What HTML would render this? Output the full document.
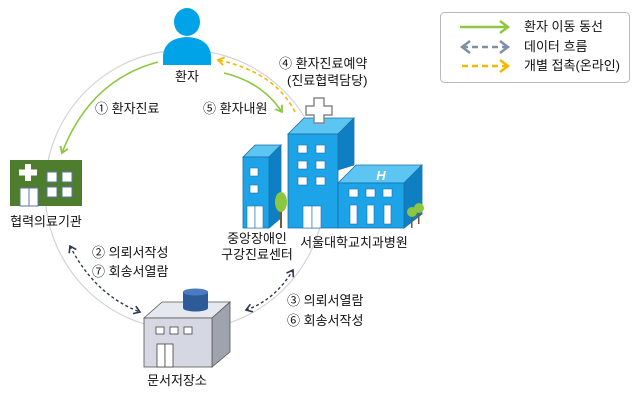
<!DOCTYPE html>
<html><head><meta charset="utf-8"><style>
html,body{margin:0;padding:0;background:#fff;width:640px;height:401px;overflow:hidden}
svg{display:block}
text{font-family:"Liberation Sans","Noto Sans CJK KR",sans-serif;font-size:13px;fill:#111}
</style></head><body>
<svg width="640" height="401" viewBox="0 0 640 401">
<defs>
<marker id="g" markerWidth="10" markerHeight="10" refX="7" refY="5" orient="auto" markerUnits="userSpaceOnUse"><path d="M1,1 L7,5 L1,9" fill="none" stroke="#8dc63f" stroke-width="1.8"/></marker>
<marker id="o" markerWidth="10" markerHeight="10" refX="7" refY="5" orient="auto" markerUnits="userSpaceOnUse"><path d="M1,1 L7,5 L1,9" fill="none" stroke="#f5b800" stroke-width="1.8"/></marker>
<marker id="d" markerWidth="10" markerHeight="10" refX="7" refY="5" orient="auto" markerUnits="userSpaceOnUse"><path d="M1,1 L7,5 L1,9" fill="none" stroke="#2b3a4f" stroke-width="1.6"/></marker>
<marker id="ds" markerWidth="10" markerHeight="10" refX="3" refY="5" orient="auto" markerUnits="userSpaceOnUse"><path d="M9,1 L3,5 L9,9" fill="none" stroke="#2b3a4f" stroke-width="1.6"/></marker>
<marker id="lg" markerWidth="14" markerHeight="14" refX="10" refY="7" orient="auto" markerUnits="userSpaceOnUse"><path d="M2,1 L10,7 L2,13" fill="none" stroke="#8dc63f" stroke-width="2.5"/></marker>
<marker id="lb" markerWidth="14" markerHeight="14" refX="10" refY="7" orient="auto" markerUnits="userSpaceOnUse"><path d="M2,1 L10,7 L2,13" fill="none" stroke="#7f8fa6" stroke-width="2.5"/></marker>
<marker id="lbs" markerWidth="14" markerHeight="14" refX="4" refY="7" orient="auto" markerUnits="userSpaceOnUse"><path d="M12,1 L4,7 L12,13" fill="none" stroke="#7f8fa6" stroke-width="2.5"/></marker>
<marker id="lo" markerWidth="14" markerHeight="14" refX="10" refY="7" orient="auto" markerUnits="userSpaceOnUse"><path d="M2,1 L10,7 L2,13" fill="none" stroke="#f5b800" stroke-width="2.5"/></marker>
</defs>

<circle cx="185" cy="190" r="140" fill="none" stroke="#d4d4d8" stroke-width="1.2"/>

<rect x="440.5" y="12.5" width="189" height="70" rx="4" fill="#fff" stroke="#b8b8b8"/>
<line x1="460" y1="27" x2="508" y2="27" stroke="#8dc63f" stroke-width="2.5" marker-end="url(#lg)"/>
<line x1="462" y1="47" x2="508" y2="47" stroke="#7f8fa6" stroke-width="2.5" stroke-dasharray="6,4" marker-end="url(#lb)" marker-start="url(#lbs)"/>
<line x1="462" y1="66" x2="508" y2="66" stroke="#f5b800" stroke-width="2.5" stroke-dasharray="6,4" marker-end="url(#lo)"/>
<text x="524" y="31" font-size="12">환자 이동 동선</text>
<text x="524" y="51" font-size="12">데이터 흐름</text>
<text x="524" y="70" font-size="12">개별 접촉(온라인)</text>

<ellipse cx="187" cy="22" rx="13" ry="14" fill="#00a3e8"/>
<path d="M163,65 L163,55 Q165,38 187,37 Q209,38 211,55 L211,65 Z" fill="#00a3e8"/>
<text x="187" y="81" text-anchor="middle">환자</text>

<path d="M158,62 Q90,80 62,153" fill="none" stroke="#8dc63f" stroke-width="1.6" marker-end="url(#g)"/>
<path d="M224,73 Q262,82 282,112" fill="none" stroke="#8dc63f" stroke-width="1.6" marker-end="url(#g)"/>
<path d="M295,112 Q275,72 218,60" fill="none" stroke="#f5b800" stroke-width="1.6" stroke-dasharray="4,3" marker-end="url(#o)"/>
<path d="M70,246 Q95,295 140,312" fill="none" stroke="#2b3a4f" stroke-width="1.4" stroke-dasharray="3,2.5" marker-end="url(#d)" marker-start="url(#ds)"/>
<path d="M246,310 Q275,300 293,270" fill="none" stroke="#2b3a4f" stroke-width="1.4" stroke-dasharray="3,2.5" marker-end="url(#d)" marker-start="url(#ds)"/>

<text x="95" y="113">① 환자진료</text>
<text x="203" y="113">⑤ 환자내원</text>
<text x="279" y="68">④ 환자진료예약</text>
<text x="287" y="85">(진료협력담당)</text>
<text x="92" y="257">② 의뢰서작성</text>
<text x="92" y="276">⑦ 회송서열람</text>
<text x="287" y="305">③ 의뢰서열람</text>
<text x="287" y="325">⑥ 회송서작성</text>

<rect x="10" y="160" width="72" height="46" fill="#4f7d2e"/>
<rect x="25" y="164" width="6" height="17" fill="#fff"/>
<rect x="19" y="169.5" width="18" height="6" fill="#fff"/>
<rect x="20" y="188" width="9" height="18" fill="#fff" stroke="#5b74a8"/>
<rect x="29" y="188" width="9" height="18" fill="#fff" stroke="#5b74a8"/>
<rect x="47" y="172" width="10" height="10" fill="#fff" stroke="#5b74a8"/>
<rect x="62" y="172" width="10" height="10" fill="#fff" stroke="#5b74a8"/>
<rect x="47" y="187" width="10" height="10" fill="#fff" stroke="#5b74a8"/>
<rect x="62" y="187" width="10" height="10" fill="#fff" stroke="#5b74a8"/>
<text x="46" y="226" text-anchor="middle">협력의료기관</text>

<g stroke="#1e6fa8" stroke-width="0.8">
<path d="M243,157 L255,145 L281,145 L269,157 Z" fill="#5cc5f2"/>
<path d="M269,157 L281,145 L281,218 L269,228 Z" fill="#0f7fc4"/>
<rect x="243" y="157" width="26" height="71" fill="#1ca3e8"/>
<path d="M288,134 L304,118 L354,118 L338,134 Z" fill="#5cc5f2"/>
<path d="M338,134 L354,118 L354,165 L338,170 Z" fill="#0f7fc4"/>
<rect x="288" y="134" width="50" height="94" fill="#1ca3e8"/>
<path d="M338,183 L356,165 L422,165 L404,183 Z" fill="#5cc5f2"/>
<path d="M404,183 L422,165 L422,214 L404,228 Z" fill="#0f7fc4"/>
<rect x="338" y="183" width="66" height="45" fill="#1ca3e8"/>
</g>
<path d="M314,98 h10 v8 h8 v9 h-8 v8 h-10 v-8 h-8 v-9 h8 Z" fill="#fff" stroke="#888" stroke-width="1.5"/>
<text x="381" y="180" font-size="15" font-weight="bold" font-style="italic" style="fill:#fff" text-anchor="middle">H</text>
<g fill="#fff" stroke="#1e6fa8" stroke-width="0.6">
<rect x="250" y="168" width="8" height="8"/><rect x="250" y="185" width="8" height="8"/>
<rect x="247" y="206" width="8" height="22"/><rect x="255" y="206" width="8" height="22"/>
<rect x="298" y="145" width="9" height="8"/><rect x="316" y="145" width="9" height="8"/>
<rect x="298" y="161" width="9" height="8"/><rect x="316" y="161" width="9" height="8"/>
<rect x="298" y="177" width="9" height="8"/><rect x="316" y="177" width="9" height="8"/>
<rect x="303" y="206" width="9" height="22"/><rect x="312" y="206" width="9" height="22"/>
<rect x="349" y="189" width="9" height="8"/><rect x="366" y="189" width="9" height="8"/><rect x="383" y="189" width="9" height="8"/>
<rect x="350" y="205" width="7" height="19"/><rect x="367" y="205" width="7" height="19"/><rect x="384" y="205" width="7" height="19"/>
</g>
<rect x="280" y="205" width="2" height="23" fill="#7a5a2a"/>
<ellipse cx="281" cy="202" rx="6" ry="10" fill="#8dc63f"/>
<rect x="411" y="214" width="1.5" height="14" fill="#7a5a2a"/><rect x="418" y="210" width="1.5" height="14" fill="#7a5a2a"/>
<circle cx="412" cy="212" r="5" fill="#8dc63f"/><circle cx="419" cy="208" r="5" fill="#8dc63f"/>
<text x="257" y="243" text-anchor="middle">중앙장애인</text>
<text x="257" y="259" text-anchor="middle">구강진료센터</text>
<text x="354" y="247" text-anchor="middle">서울대학교치과병원</text>

<g stroke="#555" stroke-width="0.8">
<path d="M144,318 L162,302 L230,302 L212,318 Z" fill="#e6e8ef"/>
<path d="M212,318 L230,302 L230,352 L212,367 Z" fill="#9ea3ad"/>
<rect x="144" y="318" width="68" height="49" fill="#d5d8e2"/>
</g>
<rect x="183" y="292" width="25" height="16" fill="#2d5b9a"/>
<ellipse cx="195.5" cy="308" rx="12.5" ry="3.5" fill="#2d5b9a"/>
<ellipse cx="195.5" cy="292" rx="12.5" ry="3.5" fill="#4a7ac0"/>
<g fill="#fff" stroke="#444" stroke-width="0.8">
<rect x="156" y="327" width="8" height="7"/><rect x="170" y="327" width="8" height="7"/><rect x="184" y="327" width="8" height="7"/>
<rect x="157" y="344" width="8" height="23"/><rect x="165" y="344" width="8" height="23"/>
</g>
<text x="177" y="385" text-anchor="middle">문서저장소</text>
</svg>
</body></html>
